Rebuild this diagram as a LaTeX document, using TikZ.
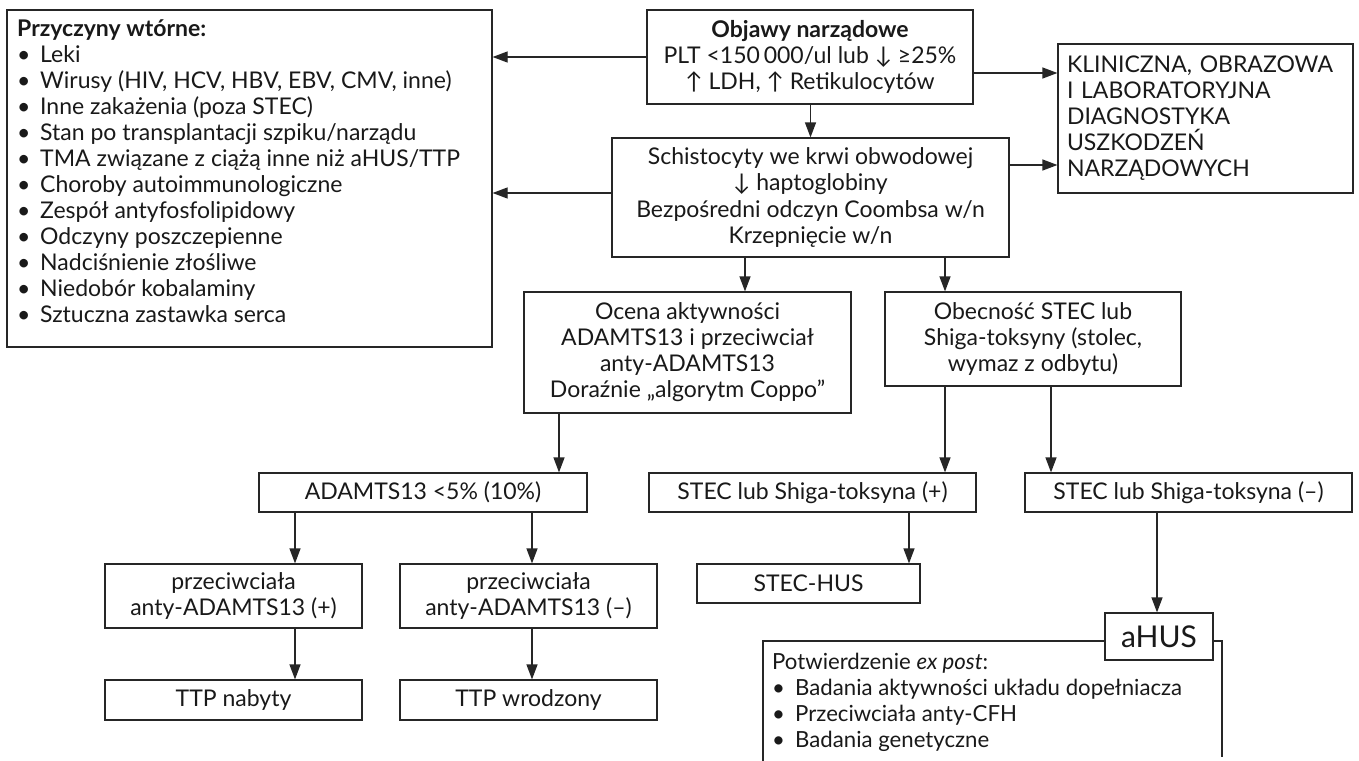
\documentclass[tikz,border=0pt]{standalone}
\usepackage{fontspec}
\setmainfont{Lato}
\usetikzlibrary{arrows.meta}
\newcommand{\mybul}{\makebox[23pt][l]{•}}
\begin{document}
\begin{tikzpicture}[x=1pt,y=-1pt,
  every node/.style={font=\fontsize{23}{26}\selectfont, text=black!90},
  box/.style={draw=black!85, line width=1.2pt, inner sep=0pt, align=center},
  thickbox/.style={box, line width=2.8pt},
  arr/.style={draw=black!85, line width=1.2pt, -{Triangle[length=15pt,width=11pt]}},
  edge/.style={draw=black!85, line width=1.2pt},
]
\useasboundingbox[fill=white] (0,0) rectangle (1359,760);

% boxes
\node[box, minimum width=485, minimum height=337] (sec) at (249.5,178.5) {};
\node[anchor=north west, inner sep=0pt, align=left] (sectext) at (17,19)
 {\textbf{Przyczyny wtórne:}\\
  \mybul Leki\\
  \mybul Wirusy (HIV, HCV, HBV, EBV, CMV, inne)\\
  \mybul Inne zakażenia (poza STEC)\\
  \mybul Stan po transplantacji szpiku/narządu\\
  \mybul TMA związane z ciążą inne niż aHUS/TTP\\
  \mybul Choroby autoimmunologiczne\\
  \mybul Zespół antyfosfolipidowy\\
  \mybul Odczyny poszczepienne\\
  \mybul Nadciśnienie złośliwe\\
  \mybul Niedobór kobalaminy\\
  \mybul Sztuczna zastawka serca};
\node[thickbox, minimum width=326, minimum height=94] (objawy) at (810,57)
 {\textbf{Objawy narządowe}\\ PLT <150\,000/ul lub ↓ ≥25\%\\ ↑ LDH, ↑ Retikulocytów};
\node[box, align=left, text width=277pt, inner xsep=9pt, minimum width=295, minimum height=149] (klin) at (1205.5,118.5)
 {KLINICZNA, OBRAZOWA\\ I LABORATORYJNA\\ DIAGNOSTYKA\\ USZKODZEŃ\\ NARZĄDOWYCH};
\node[box, minimum width=397, minimum height=119] (schist) at (810.5,197.5)
 {Schistocyty we krwi obwodowej\\ ↓ haptoglobiny\\ Bezpośredni odczyn Coombsa w/n\\ Krzepnięcie w/n};
\node[box, minimum width=327, minimum height=121] (ocena) at (687.5,352.5)
 {Ocena aktywności\\ ADAMTS13 i przeciwciał\\ anty-ADAMTS13\\ Doraźnie „algorytm Coppo”};
\node[box, minimum width=296, minimum height=94] (obec) at (1033,339)
 {Obecność STEC lub\\ Shiga-toksyny (stolec,\\ wymaz z odbytu)};
\node[box, minimum width=328, minimum height=39] (adamts) at (423,492.5) {ADAMTS13 <5\% (10\%)};
\node[box, minimum width=327, minimum height=39] (stecp) at (812.5,492.5) {STEC lub Shiga-toksyna (+)};
\node[box, minimum width=327, minimum height=39] (stecm) at (1188.5,492.5) {STEC lub Shiga-toksyna (–)};
\node[box, minimum width=257, minimum height=64] (przp) at (233.5,596) {przeciwciała\\ anty-ADAMTS13 (+)};
\node[box, minimum width=257, minimum height=64] (przm) at (528.5,596) {przeciwciała\\ anty-ADAMTS13 (–)};
\node[box, minimum width=257, minimum height=40] (nabyty) at (233.5,700) {TTP nabyty};
\node[box, minimum width=257, minimum height=40] (wrodz) at (528.5,700) {TTP wrodzony};
\node[box, minimum width=223, minimum height=39] (stechus) at (808.5,583.5) {STEC-HUS};
\node[box, minimum width=108, minimum height=47, font=\fontsize{30}{36}\selectfont] (ahus) at (1159,636.5) {aHUS};

% open box under aHUS
\coordinate (ptl) at (763,641);
\coordinate (pbl) at (763,762);
\coordinate (ptr) at (1222,641);
\coordinate (pbr) at (1222,757);
\draw[edge] (ahus.west |- ptl) -- (ptl) -- (pbl);
\draw[edge] (ahus.east |- ptr) -- (ptr) -- (pbr);
\node[anchor=north west, inner sep=0pt, align=left, font=\fontsize{22.2}{26}\selectfont] (potw) at (772,653)
 {Potwierdzenie \textit{ex post}:\\
  \mybul Badania aktywności układu dopełniacza\\
  \mybul Przeciwciała anty-CFH\\
  \mybul Badania genetyczne};

% helper coordinates
\coordinate (ya) at (0,193);
\coordinate (yb) at (0,73);
\coordinate (yc) at (0,165);
\coordinate (x745) at (745,0);
\coordinate (x945) at (945,0);
\coordinate (x559) at (559,0);
\coordinate (x1051) at (1051,0);
\coordinate (x295) at (295,0);
\coordinate (x532) at (532,0);
\coordinate (x909) at (909,0);
\coordinate (x1157) at (1157,0);

% connectors
\draw[arr] (objawy.west) -- (objawy.west -| sec.east);
\draw[arr] (schist.west |- ya) -- (sec.east |- ya);
\draw[arr] (objawy.east |- yb) -- (klin.west |- yb);
\draw[arr] (schist.east |- yc) -- (klin.west |- yc);
\draw[arr] (objawy.south -| schist.north) -- (schist.north);
\draw[arr] (schist.south -| x745) -- (ocena.north -| x745);
\draw[arr] (schist.south -| x945) -- (obec.north -| x945);
\draw[arr] (ocena.south -| x559) -- (adamts.north -| x559);
\draw[arr] (obec.south -| x945) -- (stecp.north -| x945);
\draw[arr] (obec.south -| x1051) -- (stecm.north -| x1051);
\draw[arr] (adamts.south -| x295) -- (przp.north -| x295);
\draw[arr] (adamts.south -| x532) -- (przm.north -| x532);
\draw[arr] (przp.south -| x295) -- (nabyty.north -| x295);
\draw[arr] (przm.south -| x532) -- (wrodz.north -| x532);
\draw[arr] (stecp.south -| x909) -- (stechus.north -| x909);
\draw[arr] (stecm.south -| x1157) -- (ahus.north -| x1157);
\end{tikzpicture}
\end{document}
